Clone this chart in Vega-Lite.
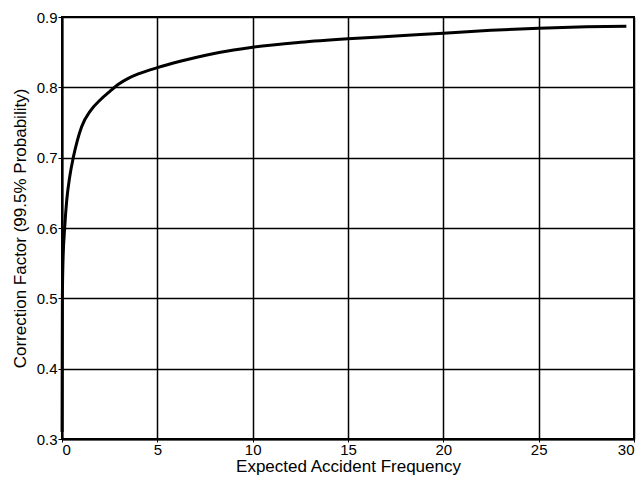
{
  "$schema": "https://vega.github.io/schema/vega-lite/v6.json",
  "width": 572,
  "height": 422,
  "autosize": {"type": "none"},
  "padding": {"left": 62, "top": 17, "right": 10, "bottom": 46},
  "background": "white",
  "config": {
    "view": {"stroke": "black", "strokeWidth": 2},
    "font": "Liberation Sans"
  },
  "data": {
    "values": [
      {"freq": 0.003, "factor": 0.31},
      {"freq": 0.01, "factor": 0.4},
      {"freq": 0.02, "factor": 0.5},
      {"freq": 0.05, "factor": 0.55},
      {"freq": 0.14, "factor": 0.6},
      {"freq": 0.25, "factor": 0.64},
      {"freq": 0.4, "factor": 0.672},
      {"freq": 0.59, "factor": 0.7},
      {"freq": 0.8, "factor": 0.724},
      {"freq": 1.03, "factor": 0.744},
      {"freq": 1.5, "factor": 0.767},
      {"freq": 2.0, "factor": 0.782},
      {"freq": 2.5, "factor": 0.794},
      {"freq": 3.0, "factor": 0.805},
      {"freq": 3.5, "factor": 0.813},
      {"freq": 4.0, "factor": 0.819},
      {"freq": 5.0, "factor": 0.828},
      {"freq": 6.2, "factor": 0.837},
      {"freq": 7.6, "factor": 0.846},
      {"freq": 9.0, "factor": 0.853},
      {"freq": 10, "factor": 0.857},
      {"freq": 12.5, "factor": 0.864},
      {"freq": 15, "factor": 0.869},
      {"freq": 17.5, "factor": 0.873},
      {"freq": 20, "factor": 0.877},
      {"freq": 22.5, "factor": 0.881},
      {"freq": 25, "factor": 0.884},
      {"freq": 27.5, "factor": 0.886},
      {"freq": 29.6, "factor": 0.887}
    ]
  },
  "mark": {"type": "line", "color": "black", "strokeWidth": 3, "interpolate": "monotone"},
  "encoding": {
    "x": {
      "field": "freq",
      "type": "quantitative",
      "scale": {"domain": [0, 30], "nice": false, "zero": false},
      "axis": {
        "title": "Expected Accident Frequency",
        "values": [0, 5, 10, 15, 20, 25, 30],
        "grid": true,
        "gridColor": "black",
        "gridWidth": 1.5,
        "gridOpacity": 1,
        "domainColor": "black",
        "domainWidth": 2,
        "tickColor": "black",
        "tickSize": 3,
        "labelFontSize": 15,
        "labelColor": "black",
        "labelPadding": 0,
        "titleFontSize": 17,
        "titleFontWeight": "normal",
        "titleColor": "black",
        "titlePadding": 1
      }
    },
    "y": {
      "field": "factor",
      "type": "quantitative",
      "scale": {"domain": [0.3, 0.9], "nice": false, "zero": false},
      "axis": {
        "title": "Correction Factor (99.5% Probability)",
        "values": [0.3, 0.4, 0.5, 0.6, 0.7, 0.8, 0.9],
        "format": ".1f",
        "grid": true,
        "gridColor": "black",
        "gridWidth": 1.5,
        "gridOpacity": 1,
        "domainColor": "black",
        "domainWidth": 2,
        "tickColor": "black",
        "tickSize": 4,
        "labelFontSize": 15,
        "labelColor": "black",
        "labelPadding": 1,
        "titleFontSize": 17,
        "titleFontWeight": "normal",
        "titleColor": "black",
        "titlePadding": 7
      }
    }
  }
}
